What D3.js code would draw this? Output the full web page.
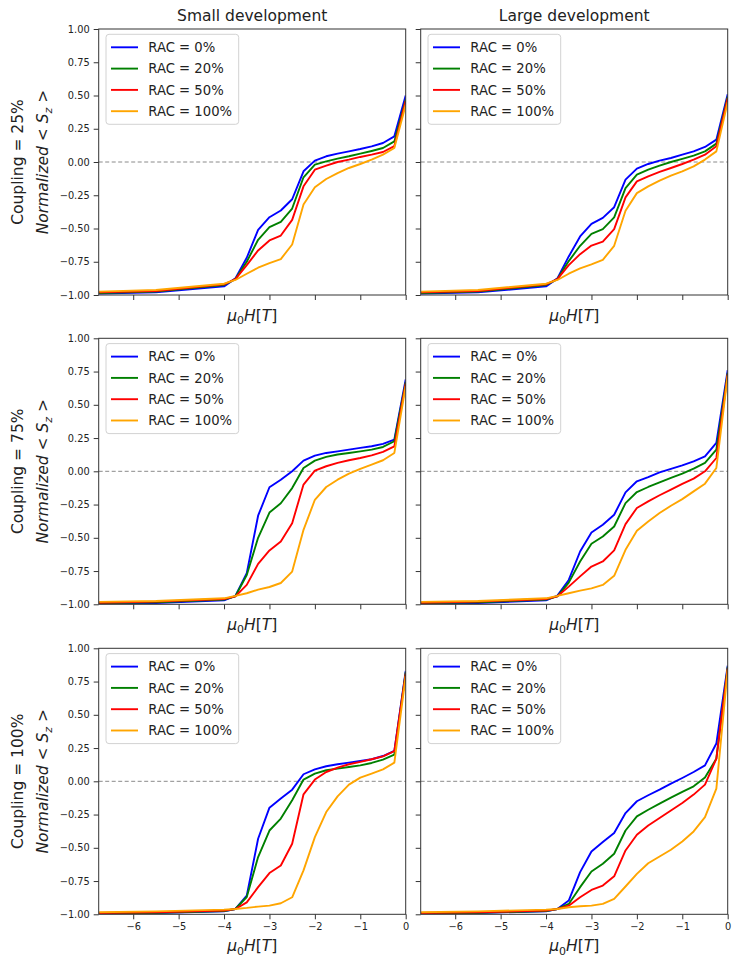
<!DOCTYPE html>
<html>
<head>
<meta charset="utf-8">
<script src="https://cdn.jsdelivr.net/npm/d3@7"></script>
<style>
  body { margin: 0; background: #fff; }
  svg { display: block; font-family: "DejaVu Sans", sans-serif; }
</style>
</head>
<body>
<div id="chart"></div>
<script>
// =========================
// DATA
// =========================
const fieldT = [-6.75, -5.5, -4, -3.75, -3.5, -3.25, -3, -2.75, -2.5, -2.25, -2,
                -1.75, -1.5, -1.25, -1, -0.75, -0.5, -0.25, 0];

const racLabels = ["RAC = 0%", "RAC = 20%", "RAC = 50%", "RAC = 100%"];
const devTitles = ["Small development", "Large development"];
const couplingLabels = ["Coupling = 25%", "Coupling = 75%", "Coupling = 100%"];
const yTicks = [-1, -0.75, -0.5, -0.25, 0, 0.25, 0.5, 0.75, 1];
const xTicks = [-6, -5, -4, -3, -2, -1, 0];

// each panel: RAC 0%, 20%, 50%, 100%
const small25 = [
  [-0.99, -0.98, -0.935, -0.875, -0.72, -0.51, -0.415, -0.365, -0.28, -0.07, 0.01, 0.043, 0.063, 0.08, 0.098, 0.118, 0.143, 0.193, 0.50],
  [-0.985, -0.975, -0.925, -0.88, -0.75, -0.585, -0.49, -0.45, -0.35, -0.115, -0.02, 0.005, 0.025, 0.043, 0.063, 0.083, 0.105, 0.155, 0.47],
  [-0.98, -0.97, -0.92, -0.88, -0.775, -0.665, -0.59, -0.553, -0.435, -0.183, -0.058, -0.028, 0.0, 0.018, 0.038, 0.055, 0.075, 0.12, 0.46],
  [-0.975, -0.962, -0.915, -0.887, -0.84, -0.795, -0.76, -0.73, -0.62, -0.32, -0.19, -0.128, -0.083, -0.045, -0.015, 0.018, 0.055, 0.105, 0.43]
];
const large25 = [
  [-0.99, -0.98, -0.935, -0.875, -0.71, -0.56, -0.465, -0.42, -0.34, -0.133, -0.05, -0.015, 0.01, 0.03, 0.055, 0.08, 0.113, 0.168, 0.51],
  [-0.985, -0.975, -0.925, -0.88, -0.745, -0.63, -0.54, -0.505, -0.417, -0.196, -0.095, -0.058, -0.028, 0.0, 0.023, 0.048, 0.08, 0.138, 0.49],
  [-0.98, -0.97, -0.92, -0.88, -0.775, -0.693, -0.628, -0.598, -0.505, -0.266, -0.146, -0.108, -0.075, -0.045, -0.015, 0.018, 0.055, 0.118, 0.48],
  [-0.975, -0.962, -0.915, -0.887, -0.84, -0.80, -0.77, -0.736, -0.63, -0.367, -0.234, -0.183, -0.14, -0.103, -0.07, -0.033, 0.018, 0.08, 0.45]
];
const small75 = [
  [-0.995, -0.99, -0.97, -0.937, -0.766, -0.334, -0.12, -0.063, 0.0, 0.08, 0.118, 0.138, 0.15, 0.163, 0.176, 0.188, 0.206, 0.239, 0.69],
  [-0.99, -0.985, -0.965, -0.94, -0.78, -0.50, -0.31, -0.24, -0.126, 0.025, 0.08, 0.108, 0.126, 0.138, 0.15, 0.163, 0.183, 0.226, 0.67],
  [-0.988, -0.98, -0.96, -0.94, -0.854, -0.696, -0.595, -0.528, -0.39, -0.10, 0.005, 0.038, 0.063, 0.083, 0.10, 0.12, 0.146, 0.188, 0.66],
  [-0.982, -0.975, -0.955, -0.937, -0.917, -0.89, -0.87, -0.84, -0.754, -0.44, -0.214, -0.118, -0.063, -0.018, 0.018, 0.05, 0.083, 0.138, 0.64]
];
const large75 = [
  [-0.995, -0.99, -0.97, -0.935, -0.817, -0.603, -0.46, -0.402, -0.327, -0.158, -0.075, -0.043, -0.008, 0.018, 0.045, 0.075, 0.113, 0.214, 0.76],
  [-0.99, -0.985, -0.965, -0.94, -0.837, -0.678, -0.545, -0.49, -0.415, -0.239, -0.156, -0.118, -0.083, -0.05, -0.018, 0.02, 0.063, 0.163, 0.74],
  [-0.988, -0.98, -0.96, -0.94, -0.867, -0.79, -0.716, -0.678, -0.595, -0.397, -0.276, -0.226, -0.18, -0.138, -0.095, -0.055, 0.0, 0.10, 0.73],
  [-0.982, -0.975, -0.955, -0.937, -0.917, -0.897, -0.88, -0.854, -0.786, -0.59, -0.447, -0.377, -0.314, -0.259, -0.209, -0.151, -0.093, 0.025, 0.72]
];
const small100 = [
  [-0.995, -0.99, -0.977, -0.96, -0.86, -0.432, -0.198, -0.13, -0.063, 0.053, 0.09, 0.113, 0.128, 0.14, 0.153, 0.166, 0.19, 0.229, 0.83],
  [-0.993, -0.988, -0.975, -0.96, -0.87, -0.57, -0.37, -0.28, -0.143, 0.013, 0.058, 0.083, 0.095, 0.108, 0.12, 0.138, 0.163, 0.20, 0.82],
  [-0.99, -0.985, -0.972, -0.96, -0.91, -0.796, -0.69, -0.633, -0.47, -0.098, 0.013, 0.07, 0.103, 0.128, 0.146, 0.166, 0.188, 0.226, 0.81],
  [-0.985, -0.978, -0.965, -0.96, -0.952, -0.942, -0.935, -0.917, -0.872, -0.67, -0.42, -0.231, -0.113, -0.025, 0.028, 0.058, 0.09, 0.14, 0.79]
];
const large100 = [
  [-0.995, -0.99, -0.977, -0.96, -0.897, -0.683, -0.528, -0.457, -0.389, -0.239, -0.15, -0.105, -0.063, -0.018, 0.025, 0.07, 0.12, 0.284, 0.87],
  [-0.993, -0.988, -0.975, -0.96, -0.922, -0.796, -0.678, -0.62, -0.545, -0.37, -0.264, -0.214, -0.168, -0.123, -0.08, -0.038, 0.028, 0.17, 0.86],
  [-0.99, -0.985, -0.972, -0.96, -0.935, -0.872, -0.817, -0.784, -0.714, -0.52, -0.402, -0.332, -0.276, -0.219, -0.163, -0.10, -0.025, 0.17, 0.85],
  [-0.985, -0.978, -0.965, -0.96, -0.947, -0.94, -0.935, -0.922, -0.884, -0.791, -0.696, -0.616, -0.565, -0.515, -0.452, -0.377, -0.269, -0.055, 0.84]
];

const panels = [[small25, large25], [small75, large75], [small100, large100]];
const colors = ["blue", "green", "red", "orange"];

// =========================
// SETUP
// =========================
const width = 740;
const height = 964;
const colX = [98.7, 420.7];
const rowY = [29, 338.3, 648.3];
const pw = 307;
const ph = 266;
const textColor = "#222";
const lineWidth = 1.9;

const svg = d3.select("#chart")
    .append("svg")
    .attr("width", width)
    .attr("height", height);

const x = d3.scaleLinear().domain([-6.76, 0]).range([0, pw]);
const y = d3.scaleLinear().domain([-1, 1]).range([ph, 0]);

const line = d3.line()
    .x((d, i) => x(fieldT[i]))
    .y(d => y(d));

svg.append("defs").append("clipPath")
    .attr("id", "plot-clip")
    .append("rect")
    .attr("width", pw)
    .attr("height", ph);

// =========================
// PANELS
// =========================
panels.forEach((row, r) => {
    row.forEach((series, c) => {
        const g = svg.append("g")
            .attr("transform", `translate(${colX[c]},${rowY[r]})`);

        // zero reference
        g.append("line")
            .attr("x1", 0).attr("x2", pw)
            .attr("y1", y(0)).attr("y2", y(0))
            .attr("stroke", "#8a8a8a")
            .attr("stroke-width", 1)
            .attr("stroke-dasharray", "4,2.5");

        // curves
        const plot = g.append("g").attr("clip-path", "url(#plot-clip)");
        series.forEach((s, k) => {
            plot.append("path")
                .datum(s)
                .attr("d", line)
                .attr("fill", "none")
                .attr("stroke", colors[k])
                .attr("stroke-width", lineWidth)
                .attr("stroke-linejoin", "round");
        });

        // axes
        const yAxis = d3.axisLeft(y)
            .tickValues(yTicks)
            .tickSize(5)
            .tickSizeOuter(0)
            .tickPadding(4)
            .tickFormat(c === 0 ? d3.format(".2f") : () => "");

        const xAxis = d3.axisBottom(x)
            .tickValues(xTicks)
            .tickSize(5)
            .tickSizeOuter(0)
            .tickPadding(3.5)
            .tickFormat(r === 2 ? d3.format("d") : () => "");

        const ya = g.append("g").call(yAxis);
        const xa = g.append("g").attr("transform", `translate(0,${ph})`).call(xAxis);

        [ya, xa].forEach(a => {
            a.select(".domain").remove();
            a.selectAll(".tick line").attr("stroke", "#333");
            a.selectAll(".tick text")
                .attr("fill", textColor)
                .style("font-size", "9.8px")
                .style("font-family", "DejaVu Sans");
        });

        // frame
        g.append("rect")
            .attr("width", pw)
            .attr("height", ph)
            .attr("fill", "none")
            .attr("stroke", "#333")
            .attr("stroke-width", 1);

        // legend
        const lg = g.append("g").attr("transform", "translate(7.3,5.3)");
        lg.append("rect")
            .attr("width", 132.7)
            .attr("height", 90)
            .attr("rx", 3)
            .attr("fill", "#fff")
            .attr("fill-opacity", 0.8)
            .attr("stroke", "#d2d2d2")
            .attr("stroke-width", 1);

        racLabels.forEach((label, k) => {
            const ly = 13 + k * 21.3;
            lg.append("line")
                .attr("x1", 5).attr("x2", 32)
                .attr("y1", ly).attr("y2", ly)
                .attr("stroke", colors[k])
                .attr("stroke-width", lineWidth);
            lg.append("text")
                .attr("x", 42.3)
                .attr("y", ly)
                .attr("dy", "0.36em")
                .attr("fill", textColor)
                .style("font-size", "13.2px")
                .text(label);
        });

        // x label: mu_0 H [T]
        const xl = g.append("text")
            .attr("x", pw / 2)
            .attr("y", ph + (r === 2 ? 37 : 25.5))
            .attr("text-anchor", "middle")
            .attr("fill", textColor)
            .style("font-size", "15.5px");
        xl.append("tspan").style("font-style", "italic").text("μ");
        xl.append("tspan").attr("dy", 3.5).style("font-size", "11px").text("0");
        xl.append("tspan").attr("dy", -3.5).style("font-style", "italic").text("H");
        xl.append("tspan").text("[");
        xl.append("tspan").style("font-style", "italic").text("T");
        xl.append("tspan").text("]");
    });
});

// =========================
// TITLES
// =========================
devTitles.forEach((t, c) => {
    svg.append("text")
        .attr("x", colX[c] + pw / 2)
        .attr("y", 21.3)
        .attr("text-anchor", "middle")
        .attr("fill", textColor)
        .style("font-size", "15.5px")
        .text(t);
});

// =========================
// ROW LABELS
// =========================
couplingLabels.forEach((t, r) => {
    const cy = rowY[r] + ph / 2;

    svg.append("text")
        .attr("transform", `translate(23,${cy}) rotate(-90)`)
        .attr("text-anchor", "middle")
        .attr("fill", textColor)
        .style("font-size", "15.5px")
        .text(t);

    const yl = svg.append("text")
        .attr("transform", `translate(48,${cy}) rotate(-90)`)
        .attr("text-anchor", "middle")
        .attr("fill", textColor)
        .style("font-size", "15.5px");
    yl.append("tspan").style("font-style", "italic").text("Normalized");
    yl.append("tspan").text(" < ");
    yl.append("tspan").style("font-style", "italic").text("S");
    yl.append("tspan").attr("dy", 3.5).style("font-style", "italic").style("font-size", "11px").text("z");
    yl.append("tspan").attr("dy", -3.5).text(" >");
});
</script>
</body>
</html>
